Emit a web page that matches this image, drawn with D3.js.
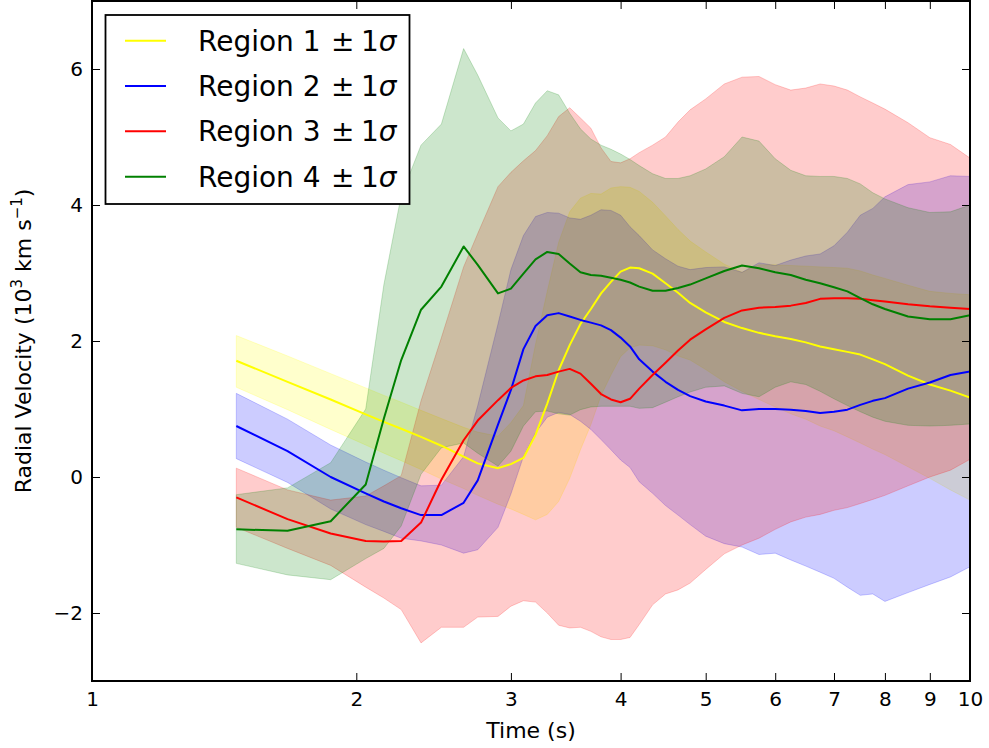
<!DOCTYPE html>
<html>
<head>
<meta charset="utf-8">
<script src="https://cdn.jsdelivr.net/npm/d3@7"></script>
<style>
  body { margin: 0; background: #ffffff; }
  svg { display: block; }
  text { font-family: "DejaVu Sans", sans-serif; fill: #000; }
</style>
</head>
<body>
<svg id="chart" width="989" height="748"></svg>
<script>
// Sample times (s)
const time = [1.46, 1.67, 1.87, 2.05, 2.15, 2.25, 2.37, 2.5, 2.65, 2.75, 2.9, 3.0, 3.1, 3.2, 3.3, 3.4, 3.5, 3.6, 3.7, 3.8, 3.9, 4.0, 4.1, 4.2, 4.35, 4.5, 4.65, 4.8, 5.0, 5.25, 5.5, 5.75, 6.0, 6.25, 6.5, 6.75, 7.0, 7.25, 7.5, 7.75, 8.0, 8.5, 9.0, 9.5, 10.0];

// Region 1 (10^3 km/s): mean, -1 sigma, +1 sigma
const region1Mean  = [1.71, 1.40, 1.14, 0.92, 0.81, 0.71, 0.59, 0.46, 0.30, 0.20, 0.13, 0.19, 0.28, 0.62, 1.08, 1.57, 1.94, 2.25, 2.47, 2.70, 2.87, 3.02, 3.08, 3.07, 2.99, 2.85, 2.71, 2.56, 2.42, 2.28, 2.19, 2.12, 2.07, 2.03, 1.98, 1.92, 1.88, 1.84, 1.80, 1.73, 1.66, 1.49, 1.36, 1.27, 1.17];
const region1Lower = [1.32, 0.99, 0.70, 0.47, 0.35, 0.24, 0.11, -0.03, -0.17, -0.27, -0.40, -0.47, -0.55, -0.63, -0.55, -0.36, -0.02, 0.40, 0.77, 1.20, 1.50, 1.77, 1.90, 1.94, 1.93, 1.87, 1.78, 1.72, 1.58, 1.40, 1.26, 1.14, 1.03, 0.93, 0.85, 0.75, 0.68, 0.59, 0.50, 0.41, 0.33, 0.15, -0.02, -0.19, -0.34];
const region1Upper = [2.08, 1.78, 1.52, 1.31, 1.20, 1.10, 0.98, 0.86, 0.73, 0.66, 0.60, 0.80, 1.05, 1.95, 2.73, 3.45, 3.90, 4.10, 4.17, 4.16, 4.25, 4.27, 4.26, 4.20, 4.04, 3.84, 3.64, 3.47, 3.31, 3.13, 3.01, 3.12, 3.12, 3.11, 3.10, 3.09, 3.08, 3.07, 3.03, 2.97, 2.92, 2.82, 2.73, 2.70, 2.68];

// Region 2
const region2Mean  = [0.75, 0.38, 0.00, -0.24, -0.36, -0.46, -0.56, -0.56, -0.38, -0.05, 0.77, 1.28, 1.88, 2.22, 2.38, 2.41, 2.36, 2.31, 2.27, 2.23, 2.16, 2.05, 1.92, 1.73, 1.55, 1.40, 1.28, 1.19, 1.11, 1.05, 0.98, 1.00, 1.00, 0.99, 0.97, 0.94, 0.96, 0.99, 1.06, 1.12, 1.16, 1.30, 1.39, 1.50, 1.55];
const region2Lower = [0.27, -0.08, -0.47, -0.70, -0.80, -0.90, -0.94, -1.00, -1.12, -1.07, -0.74, -0.25, 0.30, 0.65, 0.88, 0.95, 0.92, 0.82, 0.70, 0.55, 0.40, 0.25, 0.14, -0.07, -0.24, -0.42, -0.56, -0.70, -0.87, -0.98, -1.03, -1.14, -1.12, -1.22, -1.31, -1.40, -1.49, -1.62, -1.74, -1.72, -1.83, -1.70, -1.58, -1.47, -1.32];
const region2Upper = [1.23, 0.85, 0.47, 0.22, 0.10, -0.01, -0.13, -0.12, 0.30, 1.05, 2.25, 3.05, 3.55, 3.83, 3.89, 3.88, 3.81, 3.79, 3.85, 3.93, 3.92, 3.85, 3.68, 3.55, 3.34, 3.21, 3.10, 3.05, 3.08, 3.09, 3.01, 3.15, 3.11, 3.19, 3.25, 3.28, 3.40, 3.60, 3.85, 3.95, 4.12, 4.30, 4.34, 4.43, 4.42];

// Region 3
const region3Mean  = [-0.30, -0.62, -0.83, -0.94, -0.95, -0.94, -0.67, -0.04, 0.54, 0.83, 1.13, 1.31, 1.42, 1.48, 1.50, 1.55, 1.59, 1.52, 1.37, 1.22, 1.14, 1.10, 1.15, 1.30, 1.50, 1.68, 1.86, 2.02, 2.17, 2.34, 2.45, 2.49, 2.50, 2.52, 2.56, 2.62, 2.63, 2.63, 2.62, 2.60, 2.58, 2.54, 2.51, 2.49, 2.47];
const region3Lower = [-0.74, -1.05, -1.30, -1.62, -1.78, -1.95, -2.44, -2.21, -2.21, -2.06, -2.05, -1.90, -1.82, -1.84, -2.00, -2.18, -2.22, -2.21, -2.27, -2.35, -2.39, -2.39, -2.36, -2.17, -1.88, -1.72, -1.66, -1.56, -1.36, -1.13, -1.00, -0.90, -0.77, -0.66, -0.59, -0.55, -0.49, -0.45, -0.39, -0.33, -0.27, -0.13, 0.00, 0.10, 0.26];
const region3Upper = [0.13, -0.19, -0.34, -0.28, -0.13, 0.02, 1.12, 2.05, 3.09, 3.58, 4.27, 4.48, 4.65, 4.80, 5.02, 5.30, 5.43, 5.28, 5.13, 4.84, 4.64, 4.62, 4.68, 4.77, 4.88, 5.00, 5.22, 5.40, 5.56, 5.78, 5.88, 5.89, 5.77, 5.69, 5.72, 5.78, 5.75, 5.69, 5.59, 5.50, 5.41, 5.21, 4.99, 4.89, 4.69];

// Region 4
const region4Mean  = [-0.77, -0.79, -0.65, -0.11, 0.86, 1.72, 2.46, 2.80, 3.39, 3.12, 2.70, 2.77, 2.99, 3.20, 3.31, 3.28, 3.14, 3.01, 2.97, 2.96, 2.93, 2.90, 2.86, 2.80, 2.74, 2.74, 2.78, 2.83, 2.92, 3.03, 3.11, 3.07, 3.01, 2.97, 2.90, 2.85, 2.79, 2.73, 2.63, 2.54, 2.47, 2.36, 2.32, 2.32, 2.38];
const region4Lower = [-1.27, -1.44, -1.51, -1.20, -1.05, -0.72, 0.04, 0.43, 0.50, 0.35, 0.16, 0.38, 0.75, 0.96, 0.97, 0.93, 0.91, 0.99, 1.03, 1.04, 1.04, 1.04, 1.04, 1.01, 1.02, 1.10, 1.18, 1.25, 1.32, 1.34, 1.23, 1.18, 1.32, 1.40, 1.36, 1.26, 1.15, 1.05, 0.96, 0.88, 0.82, 0.76, 0.75, 0.76, 0.78];
const region4Upper = [-0.26, -0.16, 0.21, 1.00, 2.83, 4.14, 4.88, 5.19, 6.30, 5.91, 5.28, 5.09, 5.19, 5.50, 5.68, 5.62, 5.35, 5.12, 4.97, 4.88, 4.82, 4.75, 4.67, 4.58, 4.46, 4.39, 4.39, 4.43, 4.53, 4.71, 5.00, 4.94, 4.68, 4.51, 4.43, 4.42, 4.42, 4.39, 4.31, 4.18, 4.09, 3.96, 3.89, 3.90, 4.00];

const regionNames  = ["Region 1", "Region 2", "Region 3", "Region 4"];
const regionColors = ["#ffff00", "#0000ff", "#ff0000", "#008000"];

const xTickValues = [1, 2, 3, 4, 5, 6, 7, 8, 9, 10];
const yTickValues = [-2, 0, 2, 4, 6];

const regions = [
  { name: regionNames[0], color: regionColors[0], mean: region1Mean, lo: region1Lower, hi: region1Upper },
  { name: regionNames[1], color: regionColors[1], mean: region2Mean, lo: region2Lower, hi: region2Upper },
  { name: regionNames[2], color: regionColors[2], mean: region3Mean, lo: region3Lower, hi: region3Upper },
  { name: regionNames[3], color: regionColors[3], mean: region4Mean, lo: region4Lower, hi: region4Upper }
].map(r => ({ ...r, points: time.map((t, i) => ({ t, m: r.mean[i], lo: r.lo[i], hi: r.hi[i] })) }));

const svg = d3.select("#chart");
const plot = { left: 92, right: 970, top: 1, bottom: 681 };

const x = d3.scaleLog().domain([1, 10]).range([plot.left, plot.right]);
const y = d3.scaleLinear().domain([-3, 7]).range([plot.bottom, plot.top]);

svg.append("defs").append("clipPath").attr("id", "plot-clip")
  .append("rect")
  .attr("x", plot.left).attr("y", plot.top)
  .attr("width", plot.right - plot.left).attr("height", plot.bottom - plot.top);

const body = svg.append("g").attr("clip-path", "url(#plot-clip)");

// ±1σ bands (all drawn beneath the mean curves)
const band = d3.area()
  .x(d => x(d.t))
  .y0(d => y(d.lo))
  .y1(d => y(d.hi));

body.selectAll("path.band")
  .data(regions)
  .join("path")
  .attr("class", "band")
  .attr("d", r => band(r.points))
  .attr("fill", r => r.color)
  .attr("fill-opacity", 0.2)
  .attr("stroke", r => r.color)
  .attr("stroke-opacity", 0.2)
  .attr("stroke-width", 1);

// mean curves
const meanLine = d3.line()
  .x(d => x(d.t))
  .y(d => y(d.m));

body.selectAll("path.mean")
  .data(regions)
  .join("path")
  .attr("class", "mean")
  .attr("d", r => meanLine(r.points))
  .attr("fill", "none")
  .attr("stroke", r => r.color)
  .attr("stroke-width", 2)
  .attr("stroke-linejoin", "round");

// axes
const minus = d => (d < 0 ? "\u2212" + Math.abs(d) : String(d));

function styleAxis(g, fontSize) {
  g.select(".domain").remove();
  g.selectAll(".tick line").attr("stroke", "#000").attr("stroke-width", 1);
  g.selectAll(".tick text")
    .attr("font-family", "DejaVu Sans, sans-serif")
    .attr("font-size", fontSize)
    .attr("fill", "#000");
  g.attr("font-family", null).attr("font-size", null);
}

svg.append("g")
  .attr("transform", `translate(0,${plot.bottom})`)
  .call(d3.axisBottom(x).tickValues(xTickValues).tickFormat(d3.format("d"))
    .tickSizeInner(-8).tickSizeOuter(0).tickPadding(11))
  .call(g => styleAxis(g, 20));

svg.append("g")
  .attr("transform", `translate(0,${plot.top})`)
  .call(d3.axisTop(x).tickValues(xTickValues).tickFormat("")
    .tickSizeInner(-8).tickSizeOuter(0))
  .call(g => styleAxis(g, 20));

svg.append("g")
  .attr("transform", `translate(${plot.left},0)`)
  .call(d3.axisLeft(y).tickValues(yTickValues).tickFormat(minus)
    .tickSizeInner(-8).tickSizeOuter(0).tickPadding(9))
  .call(g => styleAxis(g, 20));

svg.append("g")
  .attr("transform", `translate(${plot.right},0)`)
  .call(d3.axisRight(y).tickValues(yTickValues).tickFormat("")
    .tickSizeInner(-8).tickSizeOuter(0))
  .call(g => styleAxis(g, 20));

// frame
svg.append("rect")
  .attr("x", plot.left).attr("y", plot.top)
  .attr("width", plot.right - plot.left).attr("height", plot.bottom - plot.top)
  .attr("fill", "none").attr("stroke", "#000").attr("stroke-width", 2);

// axis titles
svg.append("text")
  .attr("x", (plot.left + plot.right) / 2)
  .attr("y", 738)
  .attr("text-anchor", "middle")
  .attr("font-size", 22)
  .text("Time (s)");

const yTitle = svg.append("text")
  .attr("transform", `translate(31,${(plot.top + plot.bottom) / 2}) rotate(-90)`)
  .attr("text-anchor", "middle")
  .attr("font-size", 22);
yTitle.append("tspan").text("Radial Velocity (10");
yTitle.append("tspan").attr("font-size", 15).attr("dy", -9).text("3");
yTitle.append("tspan").attr("dy", 9).text(" km s");
yTitle.append("tspan").attr("font-size", 15).attr("dy", -9).text("\u22121");
yTitle.append("tspan").attr("dy", 9).text(")");

// legend
const legend = svg.append("g");
legend.append("rect")
  .attr("x", 105.5).attr("y", 15)
  .attr("width", 304).attr("height", 189)
  .attr("fill", "#fff").attr("stroke", "#000").attr("stroke-width", 1.8);

const rowY = d3.scaleLinear().domain([0, 3]).range([40.7, 176.7]);
regions.forEach((r, i) => {
  const cy = rowY(i);
  legend.append("line")
    .attr("x1", 125).attr("x2", 166)
    .attr("y1", cy).attr("y2", cy)
    .attr("stroke", r.color).attr("stroke-width", 2);
  const t = legend.append("text")
    .attr("y", cy + 10)
    .attr("font-size", 28);
  t.append("tspan").attr("x", 198).text(r.name);
  t.append("tspan").attr("x", 331).text("\u00b1");
  t.append("tspan").attr("x", 361).text("1");
  t.append("tspan").attr("font-style", "italic").text("\u03c3");
});
</script>
</body>
</html>
